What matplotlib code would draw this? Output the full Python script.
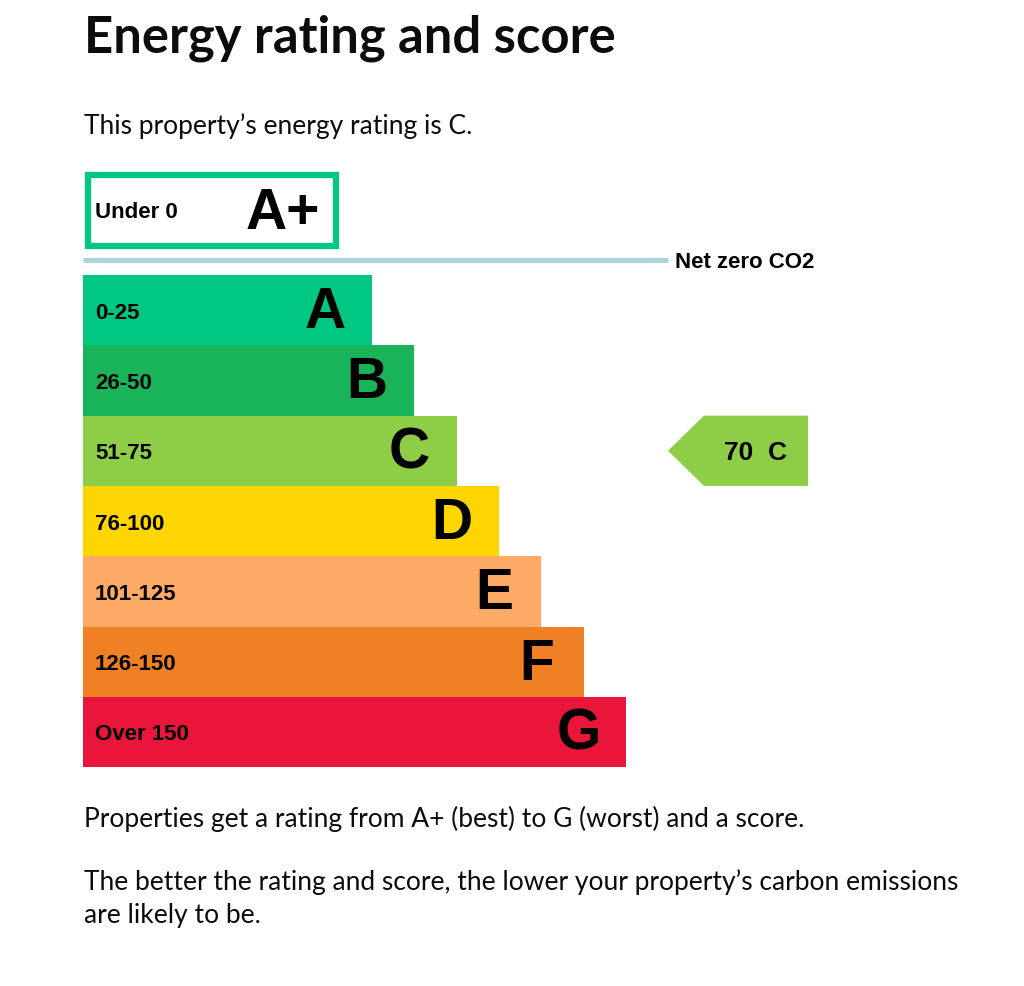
import matplotlib
matplotlib.use("Agg")
import matplotlib.pyplot as plt
from matplotlib.patches import Rectangle, Polygon

# rating bands, best to worst
bands = ["0-25", "26-50", "51-75", "76-100", "101-125", "126-150", "Over 150"]
letters = ["A", "B", "C", "D", "E", "F", "G"]
colors = ["#00c781", "#19b459", "#8dce46", "#ffd500", "#fcaa65", "#ef8023", "#e9153b"]
top_band = "Under 0"
top_letter = "A+"
score = 70
rating = "C"

title = "Energy rating and score"
intro = "This property\u2019s energy rating is C."
note1 = "Properties get a rating from A+ (best) to G (worst) and a score."
note2 = "The better the rating and score, the lower your property\u2019s carbon emissions"
note3 = "are likely to be."

W, H = 1024, 987
fig = plt.figure(figsize=(W / 100, H / 100), dpi=100)
ax = fig.add_axes([0, 0, 1, 1])
ax.set_xlim(0, W)
ax.set_ylim(H, 0)
ax.axis("off")

body = "Lato"
label = "Liberation Sans"
ink = "#0b0c0c"

ax.text(84, 38, title, fontsize=36.5, fontweight="bold", family=body, color=ink,
        va="center", ha="left")
ax.text(84, 126, intro, fontsize=19, family=body, color=ink, va="center", ha="left")

# bars
x0 = 83
y0 = 276
bar_h = 70.3
step = 42.3
base_w = 289
for i, (band, letter, col) in enumerate(zip(bands, letters, colors)):
    w = base_w + step * i
    yc = y0 + bar_h * (i + 0.5)
    ax.barh(yc, w, height=bar_h, left=x0, color=col, linewidth=0)
    ax.text(x0 + 12, yc + 2, band, fontsize=16, fontweight="bold", family=label,
            va="center", ha="left")
    ax.text(x0 + w - 47, yc + 2, letter, fontsize=41, fontweight="bold", family=label,
            va="center", ha="center")

# A+ box
ax.add_patch(Rectangle((88, 176), 248, 71, facecolor="white", edgecolor=colors[0], linewidth=4.5))
ax.text(95, 213, top_band, fontsize=16, fontweight="bold", family=label, va="center", ha="left")
ax.text(283, 214, top_letter, fontsize=41, fontweight="bold", family=label, va="center", ha="center")

# net zero line
ax.plot([83, 668], [261, 261], color="#aad4e2", linewidth=3.6, solid_capstyle="butt")
ax.text(675, 262, "Net zero CO2", fontsize=16, fontweight="bold", family=label,
        va="center", ha="left")

# current rating arrow
ci = letters.index(rating)
ay_top = y0 + bar_h * ci
ay_bot = ay_top + bar_h
ay_mid = (ay_top + ay_bot) / 2
arrow = Polygon([(668, ay_mid), (704, ay_top), (808, ay_top), (808, ay_bot), (704, ay_bot)],
                closed=True, facecolor=colors[ci], edgecolor="none")
ax.add_patch(arrow)
ax.text(756, ay_mid + 1, f"{score}  {rating}", fontsize=19, fontweight="bold", family=label,
        va="center", ha="center")

ax.text(84, 819, note1, fontsize=19, family=body, color=ink, va="center", ha="left")
ax.text(84, 882, note2, fontsize=19, family=body, color=ink, va="center", ha="left")
ax.text(84, 916, note3, fontsize=19, family=body, color=ink, va="center", ha="left")

fig.savefig("out.png", dpi=100, facecolor="white")
